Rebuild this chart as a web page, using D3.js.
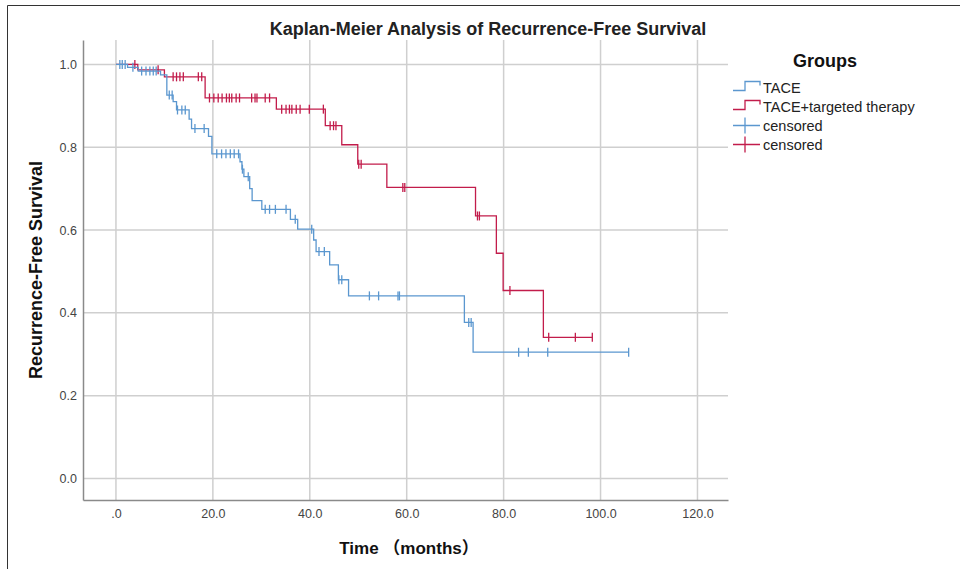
<!DOCTYPE html>
<html>
<head>
<meta charset="utf-8">
<script src="https://cdn.jsdelivr.net/npm/d3@7"></script>
<style>
  body { margin: 0; background: #fff; }
  svg { display: block; font-family: "Liberation Sans", Arial, "Noto Sans CJK SC", sans-serif; }
</style>
</head>
<body>
<div id="chart"></div>
<script>
const WIDTH = 960;
const HEIGHT = 569;

// [time in months, survival after the step]
const taceSteps = [
  [0, 1.0], [2.4, 0.993], [4.6, 0.984], [9.2, 0.975], [10.5, 0.926],
  [11.8, 0.910], [12.5, 0.890], [15.1, 0.868], [15.6, 0.845], [19.1, 0.826],
  [19.8, 0.784], [25.6, 0.765], [26.0, 0.747], [26.4, 0.729], [27.6, 0.700],
  [28.1, 0.671], [30.1, 0.650], [36.0, 0.626], [37.5, 0.602], [40.8, 0.576],
  [41.3, 0.548], [44.1, 0.516], [45.9, 0.480], [48.0, 0.441], [71.9, 0.377],
  [73.7, 0.305]
];
const taceCensored = [
  0.8, 1.3, 1.9, 3.5, 5.3, 6.2, 7.0, 7.7, 8.3, 11.0, 11.6, 12.7, 13.6, 14.3,
  16.3, 18.2, 20.8, 21.8, 22.7, 23.6, 24.4, 25.3, 26.1, 27.3, 30.8, 31.7, 32.9,
  35.1, 37.0, 40.4, 41.9, 43.0, 46.0, 46.6, 52.3, 54.2, 58.2, 58.5, 72.8, 73.3,
  83.1, 85.1, 89.1, 105.8
];
const targetedSteps = [
  [0, 1.0], [4.5, 0.987], [10.0, 0.970], [18.4, 0.919], [33.1, 0.892],
  [43.2, 0.852], [46.6, 0.806], [49.9, 0.759], [55.9, 0.703], [74.2, 0.634],
  [78.5, 0.544], [79.9, 0.454], [88.2, 0.341]
];
const targetedCensored = [
  3.9, 8.7, 11.8, 12.5, 13.2, 13.9, 17.0, 17.7, 19.3, 20.2, 21.1, 21.9, 22.8,
  23.4, 23.9, 24.8, 25.5, 28.0, 28.7, 29.1, 30.8, 31.7, 34.2, 35.1, 35.8, 36.3,
  37.2, 38.0, 39.9, 42.8, 44.2, 44.9, 45.4, 50.1, 50.6, 59.2, 59.6, 74.6, 75.0,
  81.3, 89.3, 94.8, 98.3
];
const xTicks = [0, 20, 40, 60, 80, 100, 120];
const yTicks = [0, 0.2, 0.4, 0.6, 0.8, 1.0];
const groupNames = ["TACE", "TACE+targeted therapy"];
const groupColors = ["#5b97cf", "#c21c4b"];

function survivalAt(steps, t){
  let s = steps[0][1];
  steps.forEach(d => { if (d[0] <= t) s = d[1]; });
  return s;
}

function setup(){
  let svg = d3.select("#chart")
    .append("svg")
    .attr("width", WIDTH)
    .attr("height", HEIGHT);

  // outer frame (only left and top visible)
  svg.append("path")
    .attr("d", "M7.5,569V5.5H960")
    .style("fill", "none")
    .style("stroke", "#333")
    .style("stroke-width", 1);

  let x = d3.scaleLinear().domain([-6.8, 126.3]).range([83, 728]);
  let y = d3.scaleLinear().domain([-0.052, 1.059]).range([500, 40]);

  // grid
  svg.append("g").selectAll("line")
    .data(xTicks).enter().append("line")
    .attr("x1", d => x(d)).attr("x2", d => x(d))
    .attr("y1", 40).attr("y2", 500)
    .style("stroke", "#cfcfcf").style("stroke-width", 1.5);
  svg.append("g").selectAll("line")
    .data(yTicks).enter().append("line")
    .attr("x1", 83).attr("x2", 728)
    .attr("y1", d => y(d)).attr("y2", d => y(d))
    .style("stroke", "#cfcfcf").style("stroke-width", 1.5);

  // axes
  let xAxis = d3.axisBottom(x).tickValues(xTicks).tickSize(0).tickPadding(9)
    .tickFormat(d => d === 0 ? ".0" : d3.format(".1f")(d));
  let yAxis = d3.axisLeft(y).tickValues(yTicks).tickSize(0).tickPadding(6)
    .tickFormat(d3.format(".1f"));
  let gx = svg.append("g").attr("transform", "translate(0,500)").call(xAxis);
  let gy = svg.append("g").attr("transform", "translate(83,0)").call(yAxis);
  [gx, gy].forEach(g => {
    g.select(".domain").style("stroke", "#8a8a8a").style("stroke-width", 1.5);
    g.selectAll("text").style("font-size", "12.5px").style("fill", "#444")
      .style("font-family", "'Liberation Sans', Arial, sans-serif");
  });

  // curves
  let line = d3.line()
    .x(d => x(d[0]))
    .y(d => y(d[1]))
    .curve(d3.curveStepAfter);

  let groups = [
    { steps: targetedSteps, censored: targetedCensored, color: groupColors[1] },
    { steps: taceSteps, censored: taceCensored, color: groupColors[0] }
  ];
  groups.forEach(g => {
    let last = g.steps[g.steps.length - 1];
    let end = d3.max(g.censored.concat([last[0]]));
    let pts = g.steps.concat([[end, last[1]]]);
    svg.append("path")
      .datum(pts)
      .attr("d", line)
      .style("fill", "none")
      .style("stroke", g.color)
      .style("stroke-width", 1.3);
    svg.append("g").selectAll("line")
      .data(g.censored).enter().append("line")
      .attr("x1", d => x(d)).attr("x2", d => x(d))
      .attr("y1", d => y(survivalAt(g.steps, d)) - 4.5)
      .attr("y2", d => y(survivalAt(g.steps, d)) + 4.5)
      .style("stroke", g.color)
      .style("stroke-width", 1.3);
  });

  // titles
  svg.append("text")
    .attr("x", 488).attr("y", 35)
    .attr("text-anchor", "middle")
    .style("font-size", "18px")
    .style("font-weight", "bold")
    .style("fill", "#222")
    .text("Kaplan-Meier Analysis of Recurrence-Free Survival");

  svg.append("text")
    .attr("x", 409).attr("y", 554)
    .attr("text-anchor", "middle")
    .style("font-size", "17px")
    .style("font-weight", "bold")
    .style("fill", "#111")
    .text("Time （months）");

  svg.append("text")
    .attr("transform", "translate(42,270) rotate(-90)")
    .attr("text-anchor", "middle")
    .style("font-size", "18px")
    .style("font-weight", "bold")
    .style("fill", "#111")
    .text("Recurrence-Free Survival");

  // legend
  let legend = svg.append("g").attr("transform", "translate(733,0)");
  legend.append("text")
    .attr("x", 92).attr("y", 67)
    .attr("text-anchor", "middle")
    .style("font-size", "18px")
    .style("font-weight", "bold")
    .style("fill", "#111")
    .text("Groups");

  let rows = [
    { label: groupNames[0], color: groupColors[0], type: "step" },
    { label: groupNames[1], color: groupColors[1], type: "step" },
    { label: "censored", color: groupColors[0], type: "cens" },
    { label: "censored", color: groupColors[1], type: "cens" }
  ];
  rows.forEach((r, i) => {
    let cy = 87.5 + i * 19;
    if (r.type === "step") {
      legend.append("path")
        .attr("d", `M0,${cy + 3}H12V${cy - 6}H27V${cy - 2}`)
        .style("fill", "none").style("stroke", r.color).style("stroke-width", 1.3);
    } else {
      legend.append("path")
        .attr("d", `M0,${cy}H27M12,${cy - 8}V${cy + 8}`)
        .style("fill", "none").style("stroke", r.color).style("stroke-width", 1.3);
    }
    legend.append("text")
      .attr("x", 30).attr("y", cy + 5)
      .style("font-size", "14.5px")
      .style("fill", "#222")
      .text(r.label);
  });
}

window.addEventListener("load", setup);
</script>
</body>
</html>
